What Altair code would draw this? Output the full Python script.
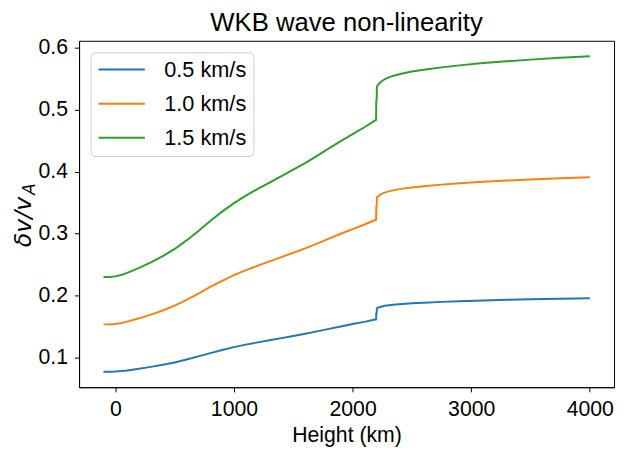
import altair as alt
import pandas as pd

heights = [-100, -50, 0, 50, 100, 200, 300, 400, 500, 600, 700, 800, 900, 1000,
           1100, 1200, 1300, 1400, 1500, 1600, 1700, 1800, 1900, 2000, 2100, 2190,
           2198, 2200, 2203, 2205, 2210, 2220, 2240, 2270, 2310, 2360, 2420, 2500,
           2600, 2750, 2900, 3100, 3300, 3500, 3750, 4000]

v_05 = [0.0766, 0.0767, 0.0769, 0.0777, 0.0788, 0.0815, 0.0845, 0.0878, 0.0917,
        0.0963, 0.1014, 0.1068, 0.1118, 0.1164, 0.1205, 0.1241, 0.1275, 0.1310,
        0.1345, 0.1380, 0.1419, 0.1459, 0.1498, 0.1537, 0.1573, 0.1610, 0.1613,
        0.1717, 0.1723, 0.1790, 0.1798, 0.1807, 0.1818, 0.1832, 0.1843, 0.1853,
        0.1863, 0.1873, 0.1883, 0.1896, 0.1907, 0.1919, 0.1929, 0.1938, 0.1947,
        0.1956]

v_10 = [0.1532, 0.1533, 0.1539, 0.1553, 0.1577, 0.1630, 0.1690, 0.1757, 0.1835,
        0.1927, 0.2028, 0.2137, 0.2237, 0.2328, 0.2410, 0.2481, 0.2550, 0.2620,
        0.2690, 0.2760, 0.2839, 0.2919, 0.2997, 0.3073, 0.3147, 0.3220, 0.3225,
        0.3433, 0.3447, 0.3580, 0.3597, 0.3613, 0.3637, 0.3663, 0.3687, 0.3707,
        0.3727, 0.3747, 0.3765, 0.3792, 0.3813, 0.3838, 0.3858, 0.3875, 0.3895,
        0.3912]

v_15 = [0.2298, 0.2300, 0.2308, 0.2330, 0.2365, 0.2445, 0.2535, 0.2635, 0.2752,
        0.2890, 0.3042, 0.3205, 0.3355, 0.3492, 0.3615, 0.3722, 0.3825, 0.3930,
        0.4035, 0.4140, 0.4258, 0.4378, 0.4495, 0.4610, 0.4720, 0.4830, 0.4838,
        0.5150, 0.5170, 0.5370, 0.5395, 0.5420, 0.5455, 0.5495, 0.5530, 0.5560,
        0.5590, 0.5620, 0.5648, 0.5688, 0.5720, 0.5757, 0.5787, 0.5813, 0.5842,
        0.5868]

series_labels = ["0.5 km/s", "1.0 km/s", "1.5 km/s"]
series_colors = ["#1f77b4", "#ff7f0e", "#2ca02c"]
x_ticks = [0, 1000, 2000, 3000, 4000]
y_ticks = [0.1, 0.2, 0.3, 0.4, 0.5, 0.6]
chart_title = "WKB wave non-linearity"

rows = []
for label, vals in zip(series_labels, [v_05, v_10, v_15]):
    for i, (h, v) in enumerate(zip(heights, vals)):
        rows.append({"h": h, "v": v, "series": label, "i": i})
df = pd.DataFrame(rows)

FONT = "Liberation Sans"

lines = alt.Chart(df).mark_line(strokeWidth=2).encode(
    x=alt.X("h:Q", scale=alt.Scale(domain=[-306, 4204], nice=False, zero=False),
            axis=alt.Axis(values=x_ticks, format="d", grid=False, title="Height (km)",
                          titleY=55.4, titleBaseline="alphabetic")),
    y=alt.Y("v:Q", scale=alt.Scale(domain=[0.0516, 0.6118], nice=False, zero=False),
            axis=alt.Axis(values=y_ticks, format=".1f", grid=False, title="δv/v",
                          titleFont="DejaVu Sans", titleFontStyle="italic",
                          titleFontSize=24, titleAngle=270, titleAlign="left",
                          titleBaseline="alphabetic", titleX=-49, titleY=208.7)),
    color=alt.Color("series:N",
                    scale=alt.Scale(domain=series_labels, range=series_colors),
                    legend=alt.Legend(title=None, orient="none", legendX=11.7, legendY=11.7,
                                      symbolType="stroke", symbolSize=2209,
                                      symbolStrokeWidth=2, clipHeight=21,
                                      rowPadding=11.5, padding=7, labelOffset=18.6,
                                      labelFontSize=22, labelFont=FONT, labelColor="black",
                                      strokeColor="#cccccc", cornerRadius=4,
                                      fillColor="rgba(255,255,255,0.8)")),
    order="i:Q",
)

sub_a = alt.Chart(alt.Data(values=[{"t": "A"}])).mark_text(
    angle=270, align="left", baseline="alphabetic", font="DejaVu Sans",
    fontStyle="italic", fontSize=17, color="black"
).encode(text="t:N", x=alt.value(-45), y=alt.value(156))

title_text = alt.Chart(alt.Data(values=[{"t": chart_title}])).mark_text(
    align="center", baseline="alphabetic", font=FONT, fontSize=26, color="black"
).encode(text="t:N", x=alt.value(271), y=alt.value(-9.6))

chart = alt.layer(lines, sub_a, title_text).properties(
    width=542, height=351,
    autosize=alt.AutoSizeParams(type="none"),
    padding={"left": 72, "top": 30.3, "right": 2, "bottom": 60.7},
).configure_view(stroke="black", strokeWidth=1).configure_axis(
    domainColor="black", tickColor="black", domainWidth=1, tickWidth=1, tickSize=4.7,
    labelFontSize=21.5, labelFont=FONT, labelColor="black", labelPadding=7,
    titleFontSize=21.5, titleFont=FONT, titleColor="black", titleFontWeight="normal",
)

chart.save("out.html", embed_options={"renderer": "svg", "actions": False})
